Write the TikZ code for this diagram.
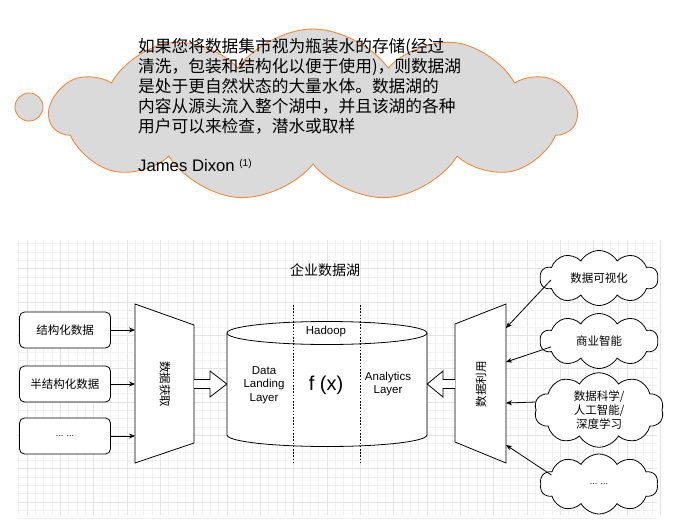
\documentclass[tikz,border=0pt]{standalone}
\usepackage{fontspec}
\setmainfont{Liberation Sans}
\newfontfamily\cjk{Noto Sans CJK SC}
\usetikzlibrary{shapes.symbols,calc,arrows.meta}
\definecolor{cloudorange}{HTML}{EE8A3E}
\definecolor{cloudfill}{HTML}{DADADA}
\definecolor{gridmajor}{HTML}{E3E3E3}
\definecolor{gridminor}{HTML}{F1F1F1}
\tikzset{
  bigcloud/.style={cloud, cloud puffs=11, cloud puff arc=110, aspect=2.95, draw=cloudorange, fill=cloudfill, line width=0.9pt, minimum width=526pt, minimum height=172pt, inner sep=0pt},
  bubble/.style={circle, draw=cloudorange, fill=cloudfill, line width=0.9pt, minimum size=28pt, inner sep=0pt},
  srcbox/.style={draw, rounded corners=5pt, minimum width=91pt, minimum height=36pt, inner sep=0pt, line width=0.8pt, fill=white, font=\cjk\fontsize{11.5}{14}\selectfont},
  usecloud/.style={cloud, cloud puffs=10, cloud puff arc=120, aspect=2.3, draw, line width=0.8pt, fill=white, minimum width=118pt, minimum height=55pt, inner sep=0pt, align=center, font=\cjk\fontsize{11.5}{14}\selectfont},
  arr/.style={-{Stealth[length=6pt,width=5pt]}, line width=0.8pt},
  hollow/.style={draw, line width=0.8pt, fill=white, line join=miter},
  dots/.style={dash pattern=on 1.6pt off 1.6pt, line width=0.7pt},
  lbl/.style={font=\fontsize{11.5}{13.3}\selectfont, align=center, inner sep=0pt},
}
\begin{document}
\begin{tikzpicture}[x=1pt,y=-1pt]
\useasboundingbox (0,0) rectangle (691,525);
% grid
\foreach \i in {0,...,76} {
  \pgfmathsetmacro{\xx}{18.7+\i*8.333}
  \draw[gridminor, line width=0.5pt] (\xx,240) -- (\xx,515);
}
\foreach \i in {0,...,33} {
  \pgfmathsetmacro{\yy}{243.7+\i*8.333}
  \draw[gridminor, line width=0.5pt] (17,\yy) -- (657,\yy);
}
\foreach \i in {0,...,19} {
  \pgfmathsetmacro{\xx}{27+\i*33.33}
  \draw[gridmajor, line width=0.6pt] (\xx,240) -- (\xx,515);
}
\foreach \i in {0,...,8} {
  \pgfmathsetmacro{\yy}{268.7+\i*33.33}
  \draw[gridmajor, line width=0.6pt] (17,\yy) -- (657,\yy);
}
% top thought cloud
\node[bubble] (bub) at (29,107) {};
\node[bigcloud] (quote) at (313,115) {};
\node[anchor=north west, align=left, inner sep=0pt, font=\cjk\fontsize{16.7}{20}\selectfont] (qtext) at (138,38) {%
如果您将数据集市视为瓶装水的存储(经过\\
清洗，包装和结构化以便于使用)，则数据湖\\
是处于更自然状态的大量水体。数据湖的\\
内容从源头流入整个湖中，并且该湖的各种\\
用户可以来检查，潜水或取样\\[19pt]
{\rmfamily James Dixon \raisebox{5pt}{\fontsize{10}{10}\selectfont(1)}}};
% title
\node[font=\cjk\fontsize{14}{16}\selectfont] (title) at (325,270) {企业数据湖};
% source boxes
\node[srcbox] (b1) at (65,330) {结构化数据};
\node[srcbox] (b2) at (65,384) {半结构化数据};
\node[srcbox] (b3) at (65,436) {\rmfamily\fontsize{9}{10}\selectfont ... ...};
% left trapezoid
\draw[line width=0.8pt, fill=white] (135,304) -- (194,325) -- (194,443) -- (135,463) -- cycle;
\node[rotate=-90, font=\cjk\fontsize{11.5}{14}\selectfont] (acq) at (165,384) {数据获取};
\coordinate (a1) at (135,330);
\coordinate (a2) at (135,384);
\coordinate (a3) at (135,436);
\draw[arr] (b1) -- (a1);
\draw[arr] (b2) -- (a2);
\draw[arr] (b3) -- (a3);
% right trapezoid
\draw[line width=0.8pt, fill=white] (455,324) -- (506,304) -- (506,463) -- (455,442) -- cycle;
\node[rotate=90, font=\cjk\fontsize{11.5}{14}\selectfont] (use) at (481,384) {数据利用};
% cylinder
\draw[line width=0.8pt, fill=white] (227,333) -- (227,435) arc[start angle=180, end angle=0, x radius=100, y radius=11.5] -- (427,333);
\draw[line width=0.8pt, fill=white] (327,333) ellipse[x radius=100, y radius=11.5];
\node[minimum width=200pt, minimum height=102pt, inner sep=0pt] (cyl) at (327,384) {};
\node[lbl] (hadoop) at (326,332) {Hadoop};
\node[lbl] (dll) at (264,385) {Data\\Landing\\Layer};
\node[lbl, font=\fontsize{20}{22}\selectfont] (fx) at (326,385) {f (x)};
\node[lbl] (al) at (388,384) {Analytics\\Layer};
\draw[dots] (293,305) -- (293,463);
\draw[dots] (360,305) -- (360,463);
% hollow arrows
\coordinate (la) at (194,384);
\coordinate (ra) at (455,384);
\draw[hollow] ($(la)+(0,-4.5)$) -- ($(la)+(16,-4.5)$) -- ($(la)+(16,-13)$) -- (cyl.west) -- ($(la)+(16,13)$) -- ($(la)+(16,4.5)$) -- ($(la)+(0,4.5)$);
\draw[hollow] ($(ra)+(0,-4.5)$) -- ($(ra)+(-12,-4.5)$) -- ($(ra)+(-12,-13)$) -- (cyl.east) -- ($(ra)+(-12,13)$) -- ($(ra)+(-12,4.5)$) -- ($(ra)+(0,4.5)$);
% usage clouds
\node[usecloud] (c1) at (599,278) {数据可视化};
\node[usecloud] (c2) at (599,341) {商业智能};
\node[usecloud, minimum height=58pt] (c3) at (599,410) {数据科学/\\人工智能/\\深度学习};
\node[usecloud, minimum height=60pt] (c4) at (599,484) {\rmfamily\fontsize{9}{10}\selectfont ... ...};
\coordinate (t1) at (506,328);
\coordinate (t2) at (506,362);
\coordinate (t3) at (506,403);
\coordinate (t4) at (506,445);
\draw[arr] ($(c1.west)+(11,2)$) -- (t1);
\draw[arr] ($(c2.west)+(11,6)$) -- (t2);
\draw[arr] ($(c3.west)+(0,-8)$) -- (t3);
\draw[arr] ($(c4.west)+(11,-9)$) -- (t4);
\end{tikzpicture}
\end{document}
